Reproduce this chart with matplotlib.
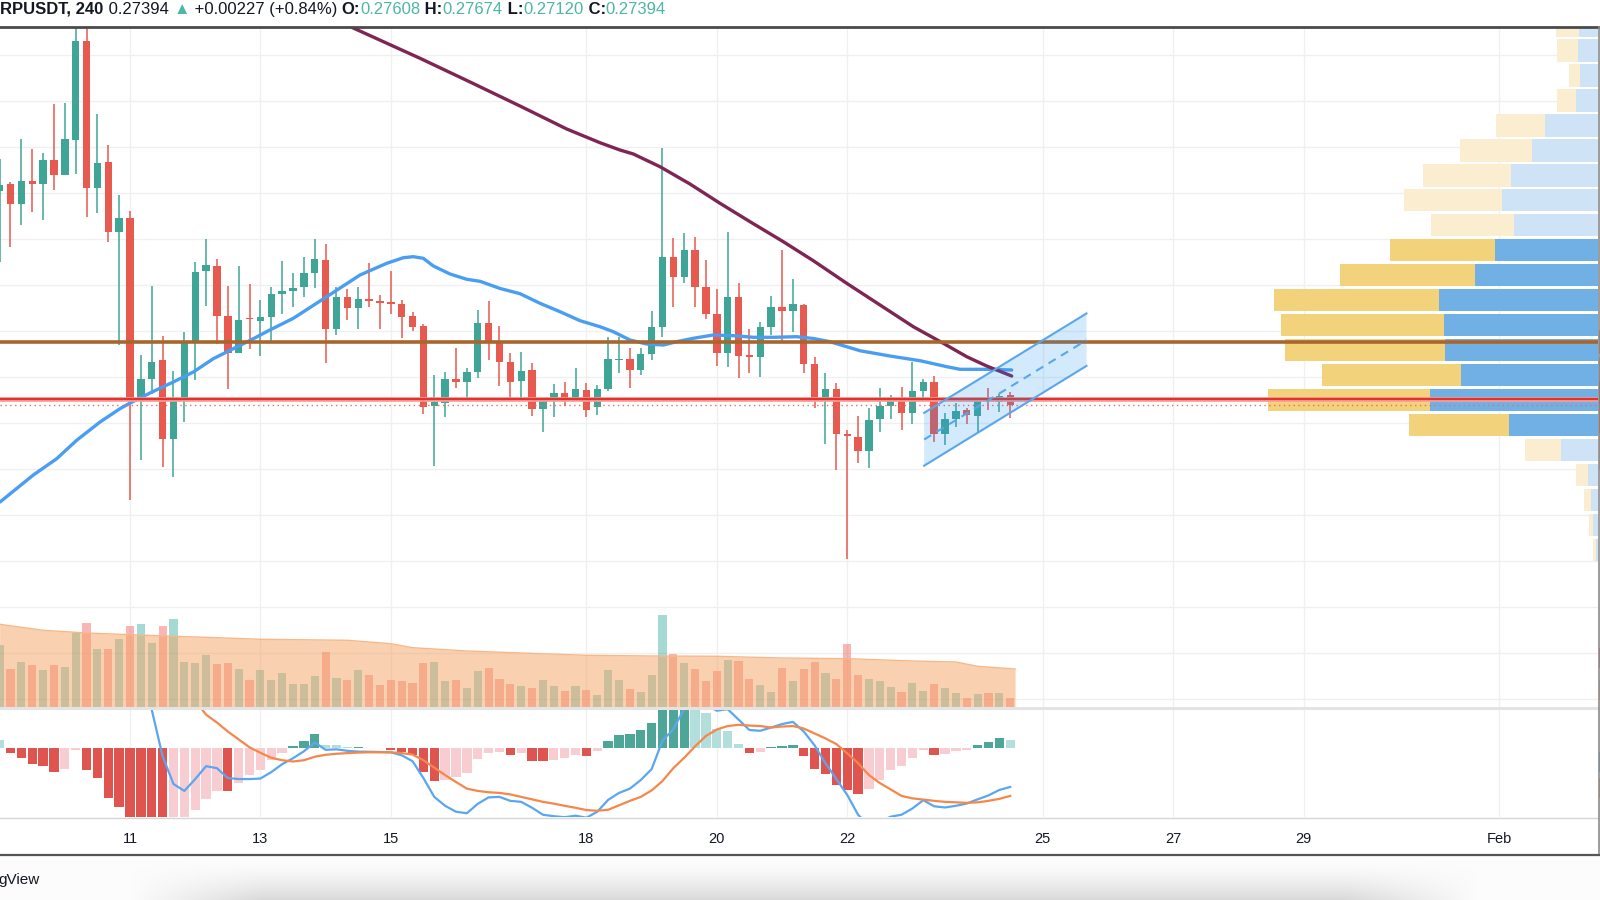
#!/usr/bin/env python3
"""XRPUSDT 4h chart: candles, moving averages, volume, volume profile and MACD."""

import numpy as np
import matplotlib

matplotlib.use("Agg")
import matplotlib.pyplot as plt
from matplotlib.patches import Polygon, Rectangle

# ---------------- data ----------------
# 4h candles starting Jan 9 00:00
opens = [0.3205, 0.3221, 0.3178, 0.3228, 0.3220, 0.3272, 0.3239, 0.3317, 0.3531, 0.3212,
         0.3268, 0.3116, 0.3147, 0.2749, 0.2796, 0.2837, 0.2665, 0.2754, 0.2875, 0.3031,
         0.3042, 0.2933, 0.2853, 0.2928, 0.2923, 0.2932, 0.2981, 0.2988, 0.2996, 0.3026,
         0.3055, 0.2905, 0.2974, 0.2950, 0.2971, 0.2967, 0.2963, 0.2960, 0.2933, 0.2912,
         0.2738, 0.2745, 0.2797, 0.2791, 0.2812, 0.2918, 0.2878, 0.2834, 0.2793, 0.2816,
         0.2731, 0.2749, 0.2765, 0.2751, 0.2773, 0.2736, 0.2774, 0.2838, 0.2839, 0.2816,
         0.2851, 0.2910, 0.3061, 0.3019, 0.3077, 0.2997, 0.2938, 0.2854, 0.2974, 0.2848,
         0.2845, 0.2910, 0.2954, 0.2944, 0.2957, 0.2829, 0.2751, 0.2775, 0.2677, 0.2671,
         0.2641, 0.2709, 0.2738, 0.2755, 0.2722, 0.2771, 0.2791, 0.2677, 0.2709, 0.2729,
         0.2716, 0.2751, 0.2747, 0.27608]
highs = [0.3275, 0.3225, 0.3319, 0.3297, 0.3288, 0.3394, 0.3397, 0.3585, 0.3580, 0.3373,
         0.3305, 0.3196, 0.3162, 0.2848, 0.2998, 0.2889, 0.2815, 0.2899, 0.3051, 0.3100,
         0.3057, 0.2998, 0.3042, 0.3002, 0.2969, 0.2996, 0.3054, 0.3026, 0.3061, 0.3100,
         0.3090, 0.2996, 0.2993, 0.2997, 0.3049, 0.2980, 0.3031, 0.2968, 0.2943, 0.2916,
         0.2805, 0.2812, 0.2865, 0.2820, 0.2947, 0.2967, 0.2912, 0.2854, 0.2856, 0.2831,
         0.2755, 0.2786, 0.2791, 0.2820, 0.2788, 0.2783, 0.2887, 0.2887, 0.2865, 0.2863,
         0.2945, 0.3298, 0.3102, 0.3115, 0.3105, 0.3055, 0.2992, 0.3117, 0.3005, 0.2905,
         0.2921, 0.2978, 0.3078, 0.3013, 0.2960, 0.2845, 0.2810, 0.2788, 0.2686, 0.2716,
         0.2734, 0.2776, 0.2762, 0.2780, 0.2833, 0.2796, 0.2802, 0.2723, 0.2744, 0.2733,
         0.2755, 0.2778, 0.2764, 0.27674]
lows = [0.3051, 0.3083, 0.3132, 0.3160, 0.3142, 0.3207, 0.3239, 0.3243, 0.3149, 0.3157,
        0.3094, 0.2870, 0.2533, 0.2620, 0.2765, 0.2605, 0.2583, 0.2702, 0.2794, 0.2955,
        0.2873, 0.2774, 0.2853, 0.2862, 0.2847, 0.2878, 0.2938, 0.2954, 0.2974, 0.2994,
        0.2832, 0.2892, 0.2925, 0.2905, 0.2954, 0.2905, 0.2938, 0.2885, 0.2901, 0.2720,
        0.2607, 0.2713, 0.2778, 0.2755, 0.2798, 0.2838, 0.2781, 0.2749, 0.2752, 0.2716,
        0.2682, 0.2713, 0.2738, 0.2751, 0.2713, 0.2718, 0.2771, 0.2810, 0.2776, 0.2805,
        0.2838, 0.2888, 0.2954, 0.3006, 0.2954, 0.2928, 0.2825, 0.2822, 0.2798, 0.2810,
        0.2800, 0.2892, 0.2880, 0.2899, 0.2809, 0.2733, 0.2655, 0.2599, 0.2405, 0.2615,
        0.2602, 0.2682, 0.2709, 0.2686, 0.2699, 0.2751, 0.2659, 0.2653, 0.2692, 0.2699,
        0.2682, 0.2729, 0.2725, 0.27120]
closes = [0.3219, 0.3178, 0.3227, 0.3220, 0.3272, 0.3239, 0.3319, 0.3531, 0.3212, 0.3267,
          0.3115, 0.3147, 0.2750, 0.2796, 0.2833, 0.2665, 0.2754, 0.2875, 0.3029, 0.3044,
          0.2933, 0.2853, 0.2925, 0.2926, 0.2932, 0.2981, 0.2988, 0.2994, 0.3026, 0.3057,
          0.2905, 0.2974, 0.2950, 0.2970, 0.2966, 0.2962, 0.2959, 0.2932, 0.2910, 0.2736,
          0.2746, 0.2797, 0.2791, 0.2811, 0.2918, 0.2878, 0.2834, 0.2791, 0.2815, 0.2731,
          0.2751, 0.2765, 0.2752, 0.2774, 0.2729, 0.2774, 0.2839, 0.2841, 0.2816, 0.2851,
          0.2910, 0.3062, 0.3018, 0.3078, 0.2996, 0.2938, 0.2854, 0.2974, 0.2847, 0.2845,
          0.2910, 0.2952, 0.2945, 0.2960, 0.2829, 0.2755, 0.2775, 0.2678, 0.2673, 0.2641,
          0.2707, 0.2738, 0.2755, 0.2722, 0.2770, 0.2791, 0.2677, 0.2709, 0.2728, 0.2718,
          0.2751, 0.2749, 0.2760, 0.27394]

# volume (arbitrary units)
volume = [61.7, 37.7, 45, 42.3, 36.7, 41.7, 40, 74.3, 84.3, 57.7,
          58.3, 68.3, 80.7, 82.7, 64.3, 80.7, 87.7, 45, 44.3, 51.7,
          42.7, 44.3, 38, 27.3, 36.7, 26.7, 34, 23.3, 22.7, 31.3,
          55, 29, 26.7, 37.3, 31.7, 21.7, 27.3, 26, 24, 44.3,
          45, 25.7, 27.3, 18.7, 35.7, 38.7, 28.3, 23.3, 21, 19.3,
          27.3, 21, 16, 20.7, 16.7, 11.7, 36.7, 26.7, 17.7, 15,
          31.7, 92.3, 53.3, 44.3, 38, 25.7, 35.7, 47.3, 45.7, 28.3,
          21.7, 15.3, 39, 26.3, 38.3, 44.7, 33.7, 28.3, 62.7, 31.7,
          27.7, 26, 20, 15.3, 24, 15.7, 22.7, 19.3, 14.3, 9.3,
          13, 14.3, 14, 9.3]
vol_ma_idx = [0, 4, 8, 12, 16, 20, 24, 32, 36, 38, 43, 48, 54, 60, 66, 72, 78, 84, 88, 90, 93]
vol_ma = [82.7, 76.7, 74, 72.3, 70.7, 69.3, 67.7, 66.7, 63.3, 59.3, 56, 54, 51.7, 51,
          50.7, 49, 48.3, 46, 45, 40.7, 38]

# MACD (arbitrary units)
macd_hist = [8.3, -4.3, -10, -16.3, -18.3, -24, -21.3, -1.7, -21.7, -29.7,
             -50, -59, -72, -78, -82, -84, -80, -72, -62, -50.7,
             -43, -43.3, -35, -27.3, -22.3, -11.3, -4.7, 2, 7.7, 14.3,
             3.7, 3.3, 1, 1.3, 0.7, 0.3, -1.7, -3.3, -6.7, -24,
             -33.3, -31.7, -29, -25, -10.7, -4.7, -4, -6.7, -5, -12.3,
             -13, -11.7, -10, -6.3, -7.3, -2.3, 7, 13.3, 14.3, 18.3,
             25.3, 45, 52, 55, 50, 35.3, 19.3, 17.7, 4.3, -5,
             -4, 1, 2, 3.7, -7.3, -20.7, -26.3, -36.7, -42.3, -46.3,
             -40.7, -31.7, -22.3, -18, -10, -1.3, -6.3, -5.7, -3, -1.3,
             3.7, 6.7, 10, 8.7]
macd_start = 13
macd_line = [55, 39, -8, -36, -43, -31, -18, -20, -30, -31,
             -31, -30.5, -24, -16, -10, -3, 6, -1.5, -1, -2.5,
             -3.3, -3.5, -3.7, -4, -7, -13, -30, -49, -58, -64,
             -65.5, -56, -49.5, -49, -53, -54, -60, -67, -68.5, -69.5,
             -68, -70, -64, -52, -45, -40.7, -32, -21, 7.7, 19.3,
             40, 48, 44, 38, 39.5, 29, 18.5, 17.7, 21, 24.5,
             26.7, 17, 3, -15, -31, -47, -67, -78, -74, -69,
             -67, -60.7, -52.3, -58.5, -59.7, -58, -55.7, -51.5, -47.5, -42,
             -39]
signal_start = 18
signal_line = [48, 34, 26, 17, 9, 1, -4.5, -9.5, -12, -13.3,
               -12, -8.5, -6.5, -5.5, -4.8, -4.3, -4, -4, -4, -4.8,
               -6.3, -12, -19.5, -27, -34, -40.7, -43, -44.3, -45, -46.5,
               -49, -51.5, -54, -55.8, -58, -60, -62.3, -63, -62, -57.5,
               -53, -49, -42.5, -33, -20, -9.5, 2, 12.5, 19, 22.5,
               23.7, 23, 22.5, 21, 22, 22.5, 20, 15, 10, 4.3,
               -5, -15, -27, -35, -41.5, -48, -50.5, -51.7, -53, -54,
               -54.5, -55, -54.5, -53, -51, -48]

# moving averages on price (day of January, price)
ma_fast_day = [9.006, 9.517, 9.876, 10.182, 10.540, 10.846, 11.011, 11.307, 11.664, 11.971,
               12.278, 12.584, 12.891, 13.136, 13.505, 14.017, 14.528, 14.937, 15.192, 15.345,
               15.498, 15.652, 15.908, 16.164, 16.368, 16.675, 16.981, 17.288, 17.595, 17.902,
               18.208, 18.413, 18.669, 18.925, 19.180, 19.385, 19.640, 19.946, 20.253, 20.560,
               20.866, 21.225, 21.480, 21.736, 22.196, 22.656, 23.116, 23.526, 23.730, 24.139,
               24.523]
ma_fast = [0.25291, 0.25878, 0.26233, 0.26633, 0.27030, 0.27320, 0.27450, 0.27661, 0.27900, 0.28117,
           0.28407, 0.28624, 0.28841, 0.29024, 0.29285, 0.29754, 0.30226, 0.30480, 0.30602, 0.30624,
           0.30589, 0.30422, 0.30248, 0.30133, 0.30089, 0.29933, 0.29820, 0.29611, 0.29428, 0.29233,
           0.29102, 0.28993, 0.28813, 0.28726, 0.28704, 0.28776, 0.28850, 0.28922, 0.28907, 0.28872,
           0.28872, 0.28885, 0.28846, 0.28776, 0.28580, 0.28465, 0.28363, 0.28233, 0.28176, 0.28176,
           0.28161]
ma_slow_day = [14.400, 15.448, 16.215, 16.981, 17.698, 18.208, 18.515, 18.719, 19.129, 19.589,
               20.049, 20.509, 21.020, 21.480, 21.992, 22.503, 23.014, 23.474, 23.833, 24.139,
               24.523]
ma_slow = [0.35611, 0.34937, 0.34422, 0.33900, 0.33400, 0.33102, 0.32943, 0.32857, 0.32580, 0.32204,
           0.31785, 0.31385, 0.30950, 0.30537, 0.30046, 0.29574, 0.29102, 0.28741, 0.28450, 0.28248,
           0.28030]

# visible range volume profile, rows from top (price) to bottom
vp_top = 0.35650
vp_step = 0.005427
vp_up = [19, 20, 17.7, 21.7, 53.3, 66.3, 87.3, 95.7, 84.3, 103.3, 123, 159, 154, 153.3,
         137.3, 168.3, 89, 37.3, 10, 6.7, 5, 1.7]
vp_down = [23.3, 21, 11.7, 19.3, 49, 72, 87.7, 98.7, 82.3, 105, 135.3, 165.3, 162.7, 160,
           138.7, 161.7, 100.3, 36, 11.7, 7.7, 4, 3.3]
vp_value_area = (9, 16)

level_resist = 0.2877
level_poc = 0.2753
last_close = 0.27394

chan_day = [23.18, 25.67]
chan_upper = [0.2723, 0.2939]
chan_mid = [0.2665, 0.2881]
chan_lower = [0.2608, 0.2825]

tick_days = [11, 13, 15, 18, 20, 22, 25, 27, 29, 32]
tick_labels = ["11", "13", "15", "18", "20", "22", "25", "27", "29", "Feb"]

# ---------------- styling ----------------
W, H = 1600, 900
PX_DAY = 65.2
PX_PRICE = 4600.0
UP = "#3fa596"
DOWN = "#e65a50"
GRID = "#f0f0f0"
FONT = ["Liberation Sans", "DejaVu Sans"]


def fy(y):
    return 1 - y / H


fig = plt.figure(figsize=(W / 100, H / 100), dpi=100)
fig.patch.set_facecolor("white")

x0 = 9.006
x1 = x0 + 1598 / PX_DAY
p_lo = 0.28 - (707 - 377.4) / PX_PRICE
p_hi = 0.28 + (377.4 - 27) / PX_PRICE

ax = fig.add_axes([0, fy(707), 1598 / W, (707 - 27) / H])
axm = fig.add_axes([0, fy(817), 1598 / W, (817 - 709) / H])
for a in (ax, axm):
    a.set_xlim(x0, x1)
    a.set_xticks(tick_days)
    a.tick_params(length=0)
    for s in a.spines.values():
        s.set_visible(False)
ax.set_ylim(p_lo, p_hi)
ax.set_yticks(np.arange(0.21, 0.355, 0.01))
ax.set_yticklabels([])
ax.set_xticklabels([])
ax.grid(True, color=GRID, lw=1, zorder=0)
ax.set_axisbelow(True)

t = 9 + np.arange(len(opens)) / 6.0
o = np.array(opens)
c = np.array(closes)
up = c >= o
cols = np.where(up, UP, DOWN)

# volume profile (right side)
rows = vp_top - vp_step * np.arange(len(vp_up))
for i, (pr, vu, vd) in enumerate(zip(rows, vp_up, vp_down)):
    dark = vp_value_area[0] <= i <= vp_value_area[1]
    cb = "#70b0e4" if dark else "#cee3f5"
    cy = "#f2d27a" if dark else "#fbeed0"
    wu = vu / PX_DAY
    wd = vd / PX_DAY
    ax.barh(pr, wu, left=x1 - wu, height=vp_step * 0.9, color=cb, zorder=1)
    ax.barh(pr, wd, left=x1 - wu - wd, height=vp_step * 0.9, color=cy, zorder=1)

# candles
ax.vlines(t, lows, highs, colors=cols, lw=1.1, zorder=3)
body = np.maximum(np.abs(c - o), 0.00022)
ax.bar(t, body, bottom=np.minimum(o, c), width=0.68 / 6, color=cols, zorder=3)

# moving averages
ax.plot(ma_fast_day, ma_fast, color="#4a9ef2", lw=2.4, zorder=5, solid_capstyle="round")
ax.plot(ma_slow_day, ma_slow, color="#7e2553", lw=2.4, zorder=5, solid_capstyle="round")

# horizontal levels
ax.axhline(level_resist, color="#a8662c", lw=2.6, zorder=6)
ax.axhline(level_poc, color="#f3a09a", lw=3.4, zorder=6)
ax.axhline(level_poc, color="#e5302c", lw=1.6, zorder=6)
ax.axhline(last_close, color="#ef6a66", lw=1, ls=(0, (1, 2.5)), zorder=6)

# parallel channel
chan = Polygon([(chan_day[0], chan_upper[0]), (chan_day[1], chan_upper[1]),
                (chan_day[1], chan_lower[1]), (chan_day[0], chan_lower[0])],
               closed=True, facecolor="#2196f3", alpha=0.2, edgecolor="none", zorder=7)
ax.add_patch(chan)
ax.plot(chan_day, chan_upper, color="#5aa6ec", lw=1.5, zorder=7)
ax.plot(chan_day, chan_lower, color="#5aa6ec", lw=1.5, zorder=7)
ax.plot(chan_day, chan_mid, color="#5aa6ec", lw=1.5, ls=(0, (4, 3)), zorder=7)

# volume overlay
axv = ax.twinx()
axv.set_ylim(0, 680)
axv.set_xlim(x0, x1)
axv.axis("off")
vcols = np.where(up, "#26a69a", "#ef5350")
axv.bar(t, volume, width=0.75 / 6, color=vcols, alpha=0.42, zorder=2)
ma_t = 9 + np.array(vol_ma_idx) / 6.0
ma_t[-1] += 0.45 / 6
axv.fill_between(ma_t, 0, vol_ma, color="#f5a462", alpha=0.5, lw=0, zorder=3)
axv.plot(ma_t, vol_ma, color="#f6b888", lw=1, zorder=3)

# MACD pane
axm.set_ylim(-69.3, 39.7)
axm.set_yticks([])
axm.grid(True, axis="x", color=GRID, lw=1)
axm.set_axisbelow(True)
hist = np.array(macd_hist)
prev = np.concatenate([[hist[0] + 1], hist[:-1]])
rising = hist > prev
hcols = np.where(hist >= 0, np.where(rising, "#4ea699", "#b2dfdb"),
                 np.where(rising, "#f8cdd2", "#e0544f"))
axm.bar(t, hist, width=0.86 / 6, color=hcols, zorder=2)
axm.plot(t[macd_start:], macd_line, color="#5aa6f0", lw=1.6, zorder=3)
axm.plot(t[signal_start:], signal_line, color="#f5874a", lw=1.6, zorder=3)
axm.set_xticklabels(tick_labels, fontsize=10.5, color="#131722", family=FONT)
axm.tick_params(axis="x", pad=11)

# frame lines
fig.add_artist(plt.Line2D([0, 1], [fy(27), fy(27)], color="#4a4a4a", lw=2))
fig.add_artist(plt.Line2D([0, 1598 / W], [fy(708), fy(708)], color="#e3e3e3", lw=2.2))
fig.add_artist(plt.Line2D([0, 1598 / W], [fy(817.5), fy(817.5)], color="#d6d6d6", lw=1))
fig.add_artist(plt.Line2D([1598.5 / W, 1598.5 / W], [fy(855), fy(27)], color="#8a8a8a", lw=1.2))
fig.add_artist(plt.Line2D([0, 1599 / W], [fy(855), fy(855)], color="#555555", lw=1.6))

# cut-off price labels peeking at the right edge
for top, bot, col in [(330, 354, "#a8662c"), (357, 381, "#4a9ef2"), (381, 406, "#7e2553"),
                      (406, 433, "#e5302c"), (433, 470, "#ef8a86"), (648, 668, "#ef5350"),
                      (680, 700, "#f5a462"), (752, 772, "#5aa6f0"), (778, 798, "#f5874a")]:
    fig.add_artist(Rectangle((1599 / W, fy(bot)), 1.5 / W, (bot - top) / H,
                             transform=fig.transFigure, color=col, lw=0))

# bottom strip with soft shadow
axb = fig.add_axes([0, 0, 1, fy(856)])
axb.axis("off")
gx = np.linspace(0, W, 400)
gy = np.linspace(0, 1, 60)
fx = np.clip((gx - 130) / 130, 0, 1) * np.clip((1480 - gx) / 130, 0, 1)
shade = 1 - 0.13 * np.outer(np.clip((gy - 0.15) / 0.85, 0, 1) ** 1.4, fx) - 0.015
axb.imshow(shade, cmap="gray", vmin=0, vmax=1, aspect="auto",
           extent=[0, W, 0, 1], origin="upper")
axb.set_xlim(0, W)
axb.set_ylim(0, 1)
fig.text(-2 / W, fy(880), "gView", fontsize=11, color="#131722", va="center",
         ha="left", family=FONT)

# header legend
parts = [
    ("RPUSDT, 240", "bold", "#131722"),
    (" 0.27394 ", "normal", "#131722"),
    ("\u25b2", "normal", "#4db6a6"),
    (" +0.00227 (+0.84%) ", "normal", "#131722"),
    ("O:", "bold", "#131722"),
    ("0.27608", "normal", "#4db6a6"),
    (" H:", "bold", "#131722"),
    ("0.27674", "normal", "#4db6a6"),
    (" L:", "bold", "#131722"),
    ("0.27120", "normal", "#4db6a6"),
    (" C:", "bold", "#131722"),
    ("0.27394", "normal", "#4db6a6"),
]
txt, wt, col = parts[0]
prev_t = fig.text(0.5 / W, fy(9.5), txt, fontsize=12, fontweight=wt, color=col,
                  va="center", ha="left", family=FONT)
for txt, wt, col in parts[1:]:
    prev_t = ax.annotate(txt, xy=(1, 0), xycoords=prev_t, va="bottom", ha="left",
                         fontsize=12, fontweight=wt, color=col, family=FONT,
                         annotation_clip=False)

fig.savefig("out.png", dpi=100)
plt.close(fig)
